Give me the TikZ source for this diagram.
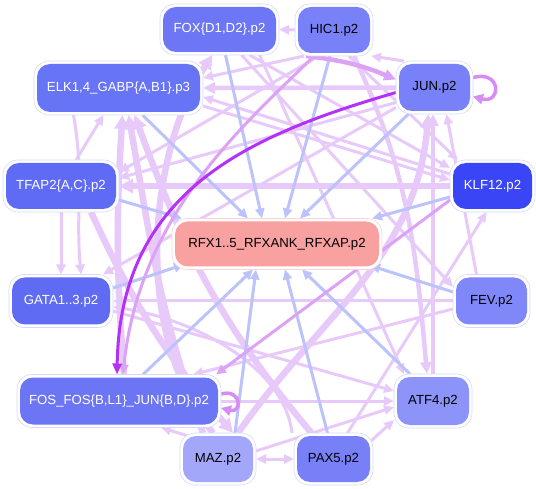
\documentclass[tikz,border=0pt]{standalone}
\usepackage{fontspec}
\setmainfont{Liberation Sans}
\usetikzlibrary{arrows.meta}
\pgfdeclarelayer{edges}
\pgfdeclarelayer{rings}
\pgfsetlayers{edges,rings,main}
\definecolor{pale}{HTML}{E8CAFA}
\definecolor{midp}{HTML}{DBA2F6}
\definecolor{loopc}{HTML}{D68CF4}
\definecolor{darkp}{HTML}{B431F7}
\definecolor{blu}{HTML}{BCC3FA}
\definecolor{ringc}{HTML}{D4D8FC}
\definecolor{ringr}{HTML}{FAD6D6}
\definecolor{cfox}{HTML}{6D77F6}
\definecolor{chic}{HTML}{7881F8}
\definecolor{celk}{HTML}{6874F6}
\definecolor{cjun}{HTML}{7981F8}
\definecolor{ctfa}{HTML}{5F6BF4}
\definecolor{cklf}{HTML}{3A46F5}
\definecolor{crfx}{HTML}{F9A1A1}
\definecolor{cgat}{HTML}{606BF3}
\definecolor{cfev}{HTML}{7F87F9}
\definecolor{cfos}{HTML}{6C76F5}
\definecolor{catf}{HTML}{8C93F9}
\definecolor{cmaz}{HTML}{A2A7FA}
\definecolor{cpax}{HTML}{7880F8}
\tikzset{
  tf/.style={rectangle, rounded corners=13pt, outer sep=3pt, inner sep=2pt,
    font=\fontsize{13.2}{15}\selectfont},
  ring/.style={draw=ringc, line width=0.6pt, fill=white, rounded corners=15pt},
  eb/.style={draw=blu, line width=3pt, -{Triangle[length=10pt,width=9pt]}},
  ep/.style={draw=pale, line width=3pt, -{Triangle[length=10pt,width=9pt]}},
  epm/.style={draw=pale, line width=4.5pt, -{Triangle[length=12pt,width=11pt]}},
  ept/.style={draw=pale, line width=6.5pt, -{Triangle[length=14pt,width=14pt]}},
  em/.style={draw=midp, line width=3pt, -{Triangle[length=10pt,width=9pt]}},
  emt/.style={draw=midp, line width=4.5pt, -{Triangle[length=12pt,width=11pt]}},
  el/.style={draw=loopc, line width=3.5pt, -{Triangle[length=10pt,width=10pt]}},
  ed/.style={draw=darkp, line width=3pt, -{Triangle[length=11pt,width=9pt]}}
}
\begin{document}
\begin{tikzpicture}[x=1pt,y=1pt]
\useasboundingbox (0,0) rectangle (536,-489);
% nodes
\node[tf, fill=cfox, text=white, minimum width=113pt, minimum height=45pt] (fox) at (219.5,-29.5) {FOX\{D1,D2\}.p2};
\node[tf, fill=chic, text=black, minimum width=72pt, minimum height=46pt] (hic) at (334,-30) {HIC1.p2};
\node[tf, fill=celk, text=white, minimum width=163pt, minimum height=48pt] (elk) at (118.5,-88) {ELK1,4\_GABP\{A,B1\}.p3};
\node[tf, fill=cjun, text=black, minimum width=71pt, minimum height=47pt] (jun) at (434.5,-87.5) {JUN.p2};
\node[tf, fill=ctfa, text=white, minimum width=110pt, minimum height=46pt] (tfa) at (61,-186) {TFAP2\{A,C\}.p2};
\node[tf, fill=cklf, text=white, minimum width=79pt, minimum height=46pt] (klf) at (492.5,-186) {KLF12.p2};
\node[tf, fill=crfx, text=black, minimum width=204pt, minimum height=45pt] (rfx) at (277,-244) {RFX1..5\_RFXANK\_RFXAP.p2};
\node[tf, fill=cgat, text=white, minimum width=98pt, minimum height=47pt] (gat) at (61,-301) {GATA1..3.p2};
\node[tf, fill=cfev, text=black, minimum width=71pt, minimum height=47pt] (fev) at (491.5,-301) {FEV.p2};
\node[tf, fill=cfos, text=white, minimum width=198pt, minimum height=47pt] (fos) at (119,-401) {FOS\_FOS\{B,L1\}\_JUN\{B,D\}.p2};
\node[tf, fill=catf, text=black, minimum width=72pt, minimum height=48pt] (atf) at (433,-401) {ATF4.p2};
\node[tf, fill=cmaz, text=black, minimum width=70pt, minimum height=46pt] (maz) at (218,-459) {MAZ.p2};
\node[tf, fill=cpax, text=black, minimum width=73pt, minimum height=46pt] (pax) at (333.5,-459) {PAX5.p2};
% rings
\begin{pgfonlayer}{rings}
\foreach \n in {fox,hic,elk,jun,tfa,klf,gat,fev,fos,atf,maz,pax}
  \draw[ring] (\n.south west) rectangle (\n.north east);
\draw[ring, draw=ringr] (rfx.south west) rectangle (rfx.north east);
\end{pgfonlayer}
% edges
\begin{pgfonlayer}{edges}
% pale purple edges
\draw[ep] (hic.west) -- (fox.east);
\draw[ep] ([xshift=8pt]jun.north west) -- ([xshift=-2pt]hic.south east);
\draw[epm] (jun.west) -- (elk.east);
\draw[ep] ([xshift=-30pt]hic.south) -- ([yshift=10pt]elk.east);
\draw[ep] ([yshift=12pt]klf.west) -- ([yshift=-9pt]elk.east);
\draw[ep] ([xshift=15pt]tfa.north) -- ([xshift=-15pt]elk.south);
\draw[ep] (tfa.south) -- (gat.north);
\draw[ept] (klf.west) -- (tfa.east);
\draw[ep] ([yshift=-15pt]jun.west) -- ([yshift=8pt]tfa.east);
\draw[ep] ([xshift=-15pt]hic.south) -- ([yshift=14pt]tfa.east);
\draw[ep] (fev.west) -- (gat.east);
\draw[ep] ([xshift=-2pt]pax.north west) .. controls (285,-370) and (200,-320) .. ([yshift=-6pt]gat.east);
\draw[ep, {Triangle[length=10pt,width=9pt]}-{Triangle[length=10pt,width=9pt]}] (maz.east) -- (pax.west);
\draw[ep] ([xshift=8pt,yshift=-3pt]maz.north west) -- ([xshift=42pt]fos.south);
\draw[ep] ([yshift=8pt]maz.east) -- ([yshift=-6pt]atf.west);
\draw[ep] ([xshift=-2pt,yshift=-8pt]pax.north east) -- ([yshift=8pt]atf.south west);
\draw[ep] (fos.east) -- (atf.west);
\draw[ep] ([yshift=-8pt]fev.west) -- ([xshift=-28pt]fos.north east);
\draw[epm] (atf.north) -- ([xshift=-1.5pt]jun.south);
\draw[ep] ([xshift=-15pt]fev.north) -- ([xshift=12pt]jun.south);
\draw[epm] ([xshift=20pt]hic.south) to[out=-65,in=95] ([xshift=-6pt]atf.north);
\draw[ept] ([xshift=5pt]fos.north) to[bend left=4] ([xshift=4pt]elk.south);
\draw[ept] ([xshift=-15pt]maz.north) to[out=110,in=-80] ([xshift=10pt]elk.south);
\draw[ept] ([xshift=-5pt]maz.north) .. controls (130,-330) and (150,-150) .. ([xshift=-7pt]fox.south);
\draw[ept] ([xshift=30pt]tfa.south) to[bend right=8] ([xshift=15pt]maz.north);
\draw[ept] ([xshift=-22pt]pax.north) to[out=130,in=-70] ([xshift=16pt]elk.south);
\draw[ept] ([xshift=20pt]maz.north) to[out=55,in=-95] ([xshift=-6pt]jun.south);
\draw[ep] ([xshift=22pt]fox.south) -- ([yshift=14pt]fev.west);
\draw[ep] ([xshift=40pt]fox.south) -- ([xshift=10pt]atf.north west);
\draw[ep] ([yshift=-20pt]jun.west) -- ([xshift=-10pt]gat.north east);
\draw[ep] ([yshift=-18pt]elk.east) -- ([yshift=6pt]klf.west);
\draw[ep] ([xshift=30pt]fox.south) -- ([yshift=18pt]klf.west);
\draw[ep] ([xshift=15pt]hic.south) -- ([xshift=8pt]klf.north west);
\draw[ep] ([xshift=-45pt]elk.south) to[out=-80,in=95] ([xshift=20pt]gat.north);
\draw[ep] ([xshift=14pt]pax.north) -- ([xshift=-6pt]klf.south);
\draw[ep] ([yshift=-10pt]gat.east) -- ([yshift=10pt]atf.west);
% blue edges to RFX
\draw[eb] ([xshift=6pt]fox.south) -- ([xshift=-15pt]rfx.north);
\draw[eb] ([xshift=-4pt]hic.south) -- ([xshift=8pt]rfx.north);
\draw[eb] ([xshift=24pt]elk.south) -- ([xshift=-29pt]rfx.north);
\draw[eb] ([xshift=-26pt]jun.south) -- ([xshift=23pt]rfx.north);
\draw[eb] ([yshift=-14pt]tfa.east) -- ([xshift=10pt]rfx.north west);
\draw[eb] ([yshift=-11pt]klf.west) -- ([xshift=-10pt]rfx.north east);
\draw[eb] ([yshift=13pt]gat.east) -- ([xshift=12pt,yshift=5pt]rfx.south west);
\draw[eb] ([yshift=9pt]fev.west) -- ([xshift=-12pt,yshift=4pt]rfx.south east);
\draw[eb] ([xshift=24pt]fos.north) -- ([xshift=-24pt]rfx.south);
\draw[eb] ([xshift=-23pt]atf.north) -- ([xshift=25pt]rfx.south);
\draw[eb] ([xshift=17pt]maz.north) -- ([xshift=-21pt]rfx.south);
\draw[eb] ([xshift=-6pt]pax.north) -- ([xshift=8pt]rfx.south);
% medium purple edges
\draw[emt] ([xshift=-28pt]hic.south) to[bend left=8] ([yshift=8pt]jun.west);
\draw[em] ([yshift=-14pt]klf.west) -- ([xshift=-5pt]fos.north east);
\draw[em] ([xshift=-20pt]hic.south) .. controls (250,-120) and (140,-210) .. ([xshift=4pt]fos.north);
\draw[el] ([yshift=10pt]jun.east) to[out=15,in=-15,looseness=4] ([yshift=-9pt]jun.east);
\draw[el] ([yshift=7pt]fos.east) to[out=15,in=-15,looseness=4] ([yshift=-7pt]fos.east);
% dark purple
\draw[ed] ([yshift=-5pt]jun.west) .. controls (250,-135) and (120,-190) .. ([xshift=-2pt]fos.north);
\end{pgfonlayer}
\end{tikzpicture}
\end{document}
